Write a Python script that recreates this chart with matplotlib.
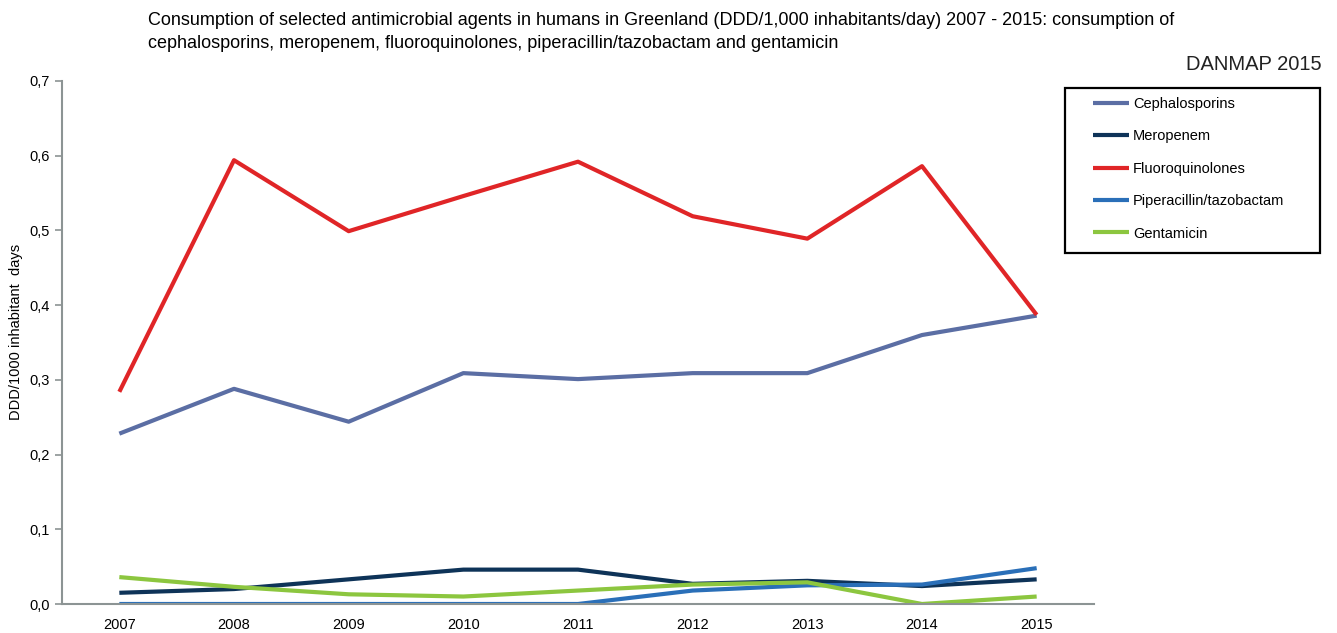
import matplotlib.pyplot as plt
from matplotlib.patches import Rectangle
from matplotlib.ticker import FuncFormatter

plt.rcParams['font.family'] = ['Liberation Sans', 'DejaVu Sans']

# data
years = [2007, 2008, 2009, 2010, 2011, 2012, 2013, 2014, 2015]
cephalosporins = [0.228, 0.288, 0.244, 0.309, 0.301, 0.309, 0.309, 0.360, 0.386]
meropenem = [0.015, 0.020, 0.033, 0.046, 0.046, 0.027, 0.031, 0.024, 0.033]
fluoroquinolones = [0.284, 0.594, 0.499, 0.546, 0.592, 0.519, 0.489, 0.586, 0.387]
piperacillin = [0.0, 0.0, 0.0, 0.0, 0.0, 0.018, 0.025, 0.026, 0.048]
gentamicin = [0.036, 0.023, 0.013, 0.010, 0.018, 0.026, 0.029, 0.0, 0.010]

series = [
    ("Cephalosporins", cephalosporins, "#5b6ea4"),
    ("Meropenem", meropenem, "#0e3358"),
    ("Fluoroquinolones", fluoroquinolones, "#e02527"),
    ("Piperacillin/tazobactam", piperacillin, "#2a6fb8"),
    ("Gentamicin", gentamicin, "#8cc63f"),
]

W, H = 1337, 633
fig = plt.figure(figsize=(W / 100, H / 100), dpi=100)
ax = fig.add_axes([62 / W, 1 - 604 / H, (1094 - 62) / W, (604 - 81) / H])

for name, vals, col in series:
    ax.plot(years, vals, color=col, lw=3, label=name, solid_capstyle='butt')

ax.set_xlim(2006.5, 2015.5)
ax.set_ylim(0, 0.7)
ax.set_xticks(years)
ax.set_yticks([0, 0.1, 0.2, 0.3, 0.4, 0.5, 0.6, 0.7])
ax.yaxis.set_major_formatter(FuncFormatter(lambda v, p: f"{v:.1f}".replace('.', ',')))
ax.tick_params(axis='x', length=0, pad=10, labelsize=10.5)
ax.tick_params(axis='y', length=5, width=1.2, color='#8c9494', direction='out', labelsize=10.5, pad=4)

for s in ['top', 'right']:
    ax.spines[s].set_visible(False)
for s in ['left', 'bottom']:
    ax.spines[s].set_color('#8c9494')
    ax.spines[s].set_linewidth(1.5)

ax.set_ylabel("DDD/1000 inhabitant  days", fontsize=10.5)
ax.yaxis.set_label_coords((23 - 62) / (1094 - 62), 0.52)

fig.text(148 / W, 1 - 32 / H,
         "Consumption of selected antimicrobial agents in humans in Greenland (DDD/1,000 inhabitants/day) 2007 - 2015: consumption of\n"
         "cephalosporins, meropenem, fluoroquinolones, piperacillin/tazobactam and gentamicin",
         fontsize=13, va='center', ha='left', linespacing=1.45)
fig.text(1322 / W, 1 - 64 / H, "DANMAP 2015", fontsize=14.5, ha='right', va='center',
         color='#222222')

# legend box drawn separately so the padding matches the reference
fig.patches.append(Rectangle((1065 / W, 1 - 253 / H), (1320 - 1065) / W, (253 - 88) / H,
                             transform=fig.transFigure, fill=False, edgecolor='black', lw=1.6))
fig.legend(loc='upper left', bbox_to_anchor=(1093 / W, 1 - 97 / H),
           fontsize=10.5, frameon=False, handlelength=2.5, handletextpad=0.25,
           labelspacing=1.26, borderpad=0, borderaxespad=0)

fig.savefig("out.png", dpi=100)
